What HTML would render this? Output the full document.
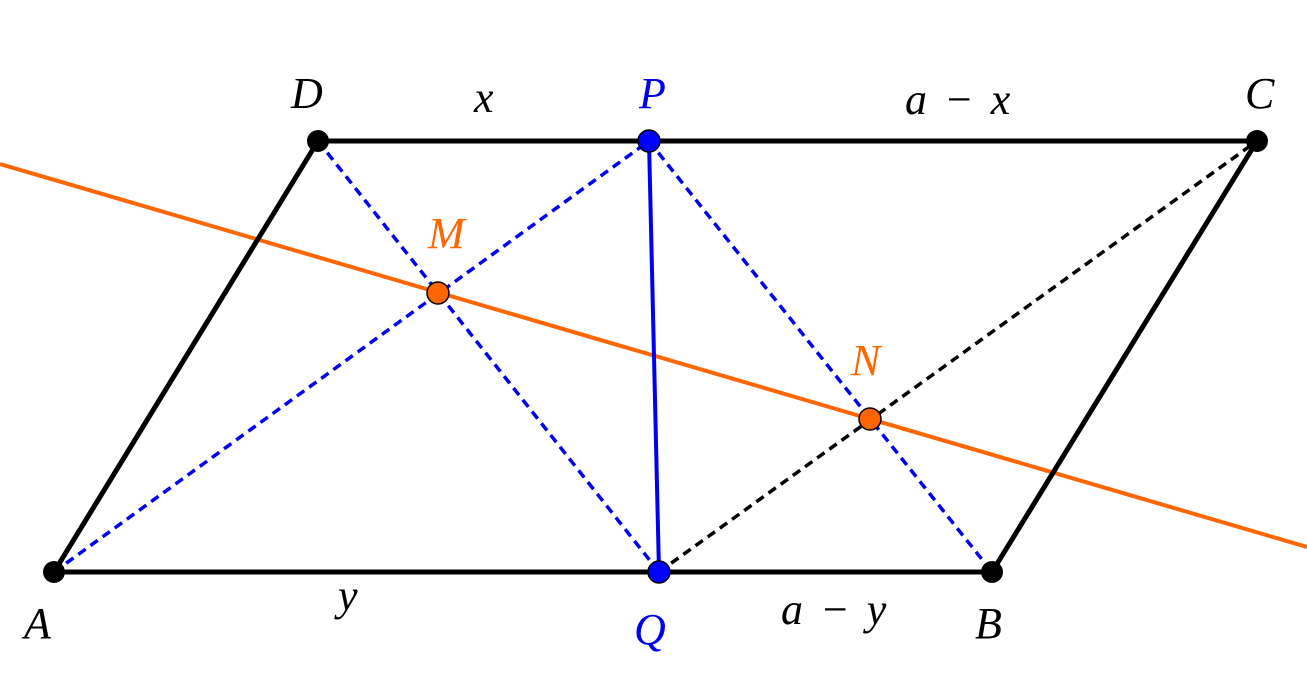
<!DOCTYPE html>
<html><head><meta charset="utf-8"><style>
html,body{margin:0;padding:0;background:#fff;}
svg text{font-family:"Liberation Serif",serif;font-style:italic;font-size:44px;}
</style></head><body>
<svg width="1307" height="676" viewBox="0 0 1307 676" xmlns="http://www.w3.org/2000/svg">
<line x1="0" y1="164" x2="1307" y2="547" stroke="#ff6600" stroke-width="4"/>
<g stroke="#0000ee" stroke-width="3.5" stroke-dasharray="9,6" fill="none">
<line x1="54" y1="572" x2="649" y2="141"/>
<line x1="318" y1="141" x2="659" y2="572"/>
<line x1="649" y1="141" x2="992" y2="572"/>
</g>
<line x1="659" y1="572" x2="1257" y2="141" stroke="#000" stroke-width="3.5" stroke-dasharray="9,6"/>
<polygon points="54,572 992,572 1257,141 318,141" fill="none" stroke="#000" stroke-width="5" stroke-linejoin="round"/>
<line x1="649" y1="141" x2="659" y2="572" stroke="#0000ee" stroke-width="4"/>
<g fill="#000"><circle cx="54" cy="572" r="11"/><circle cx="992" cy="572" r="11"/><circle cx="1257" cy="141" r="11"/><circle cx="318" cy="141" r="11"/></g>
<g fill="#0000ff" stroke="#000" stroke-width="1.5"><circle cx="649" cy="141" r="11"/><circle cx="659" cy="572" r="11"/></g>
<g fill="#ff6600" stroke="#000" stroke-width="1.5"><circle cx="438" cy="293" r="11"/><circle cx="870" cy="419" r="11"/></g>
<text x="291" y="108">D</text>
<text x="474" y="112">x</text>
<text x="639" y="108" fill="#0000ee">P</text>
<text x="905" y="114" word-spacing="6">a − x</text>
<text x="1245" y="108">C</text>
<text x="428" y="248" fill="#ff6600">M</text>
<text x="851" y="375" fill="#ff6600">N</text>
<text x="24" y="638">A</text>
<text x="338" y="610">y</text>
<text x="634" y="644" fill="#0000ee">Q</text>
<text x="781" y="624" word-spacing="6">a − y</text>
<text x="975" y="638">B</text>
</svg>
</body></html>
